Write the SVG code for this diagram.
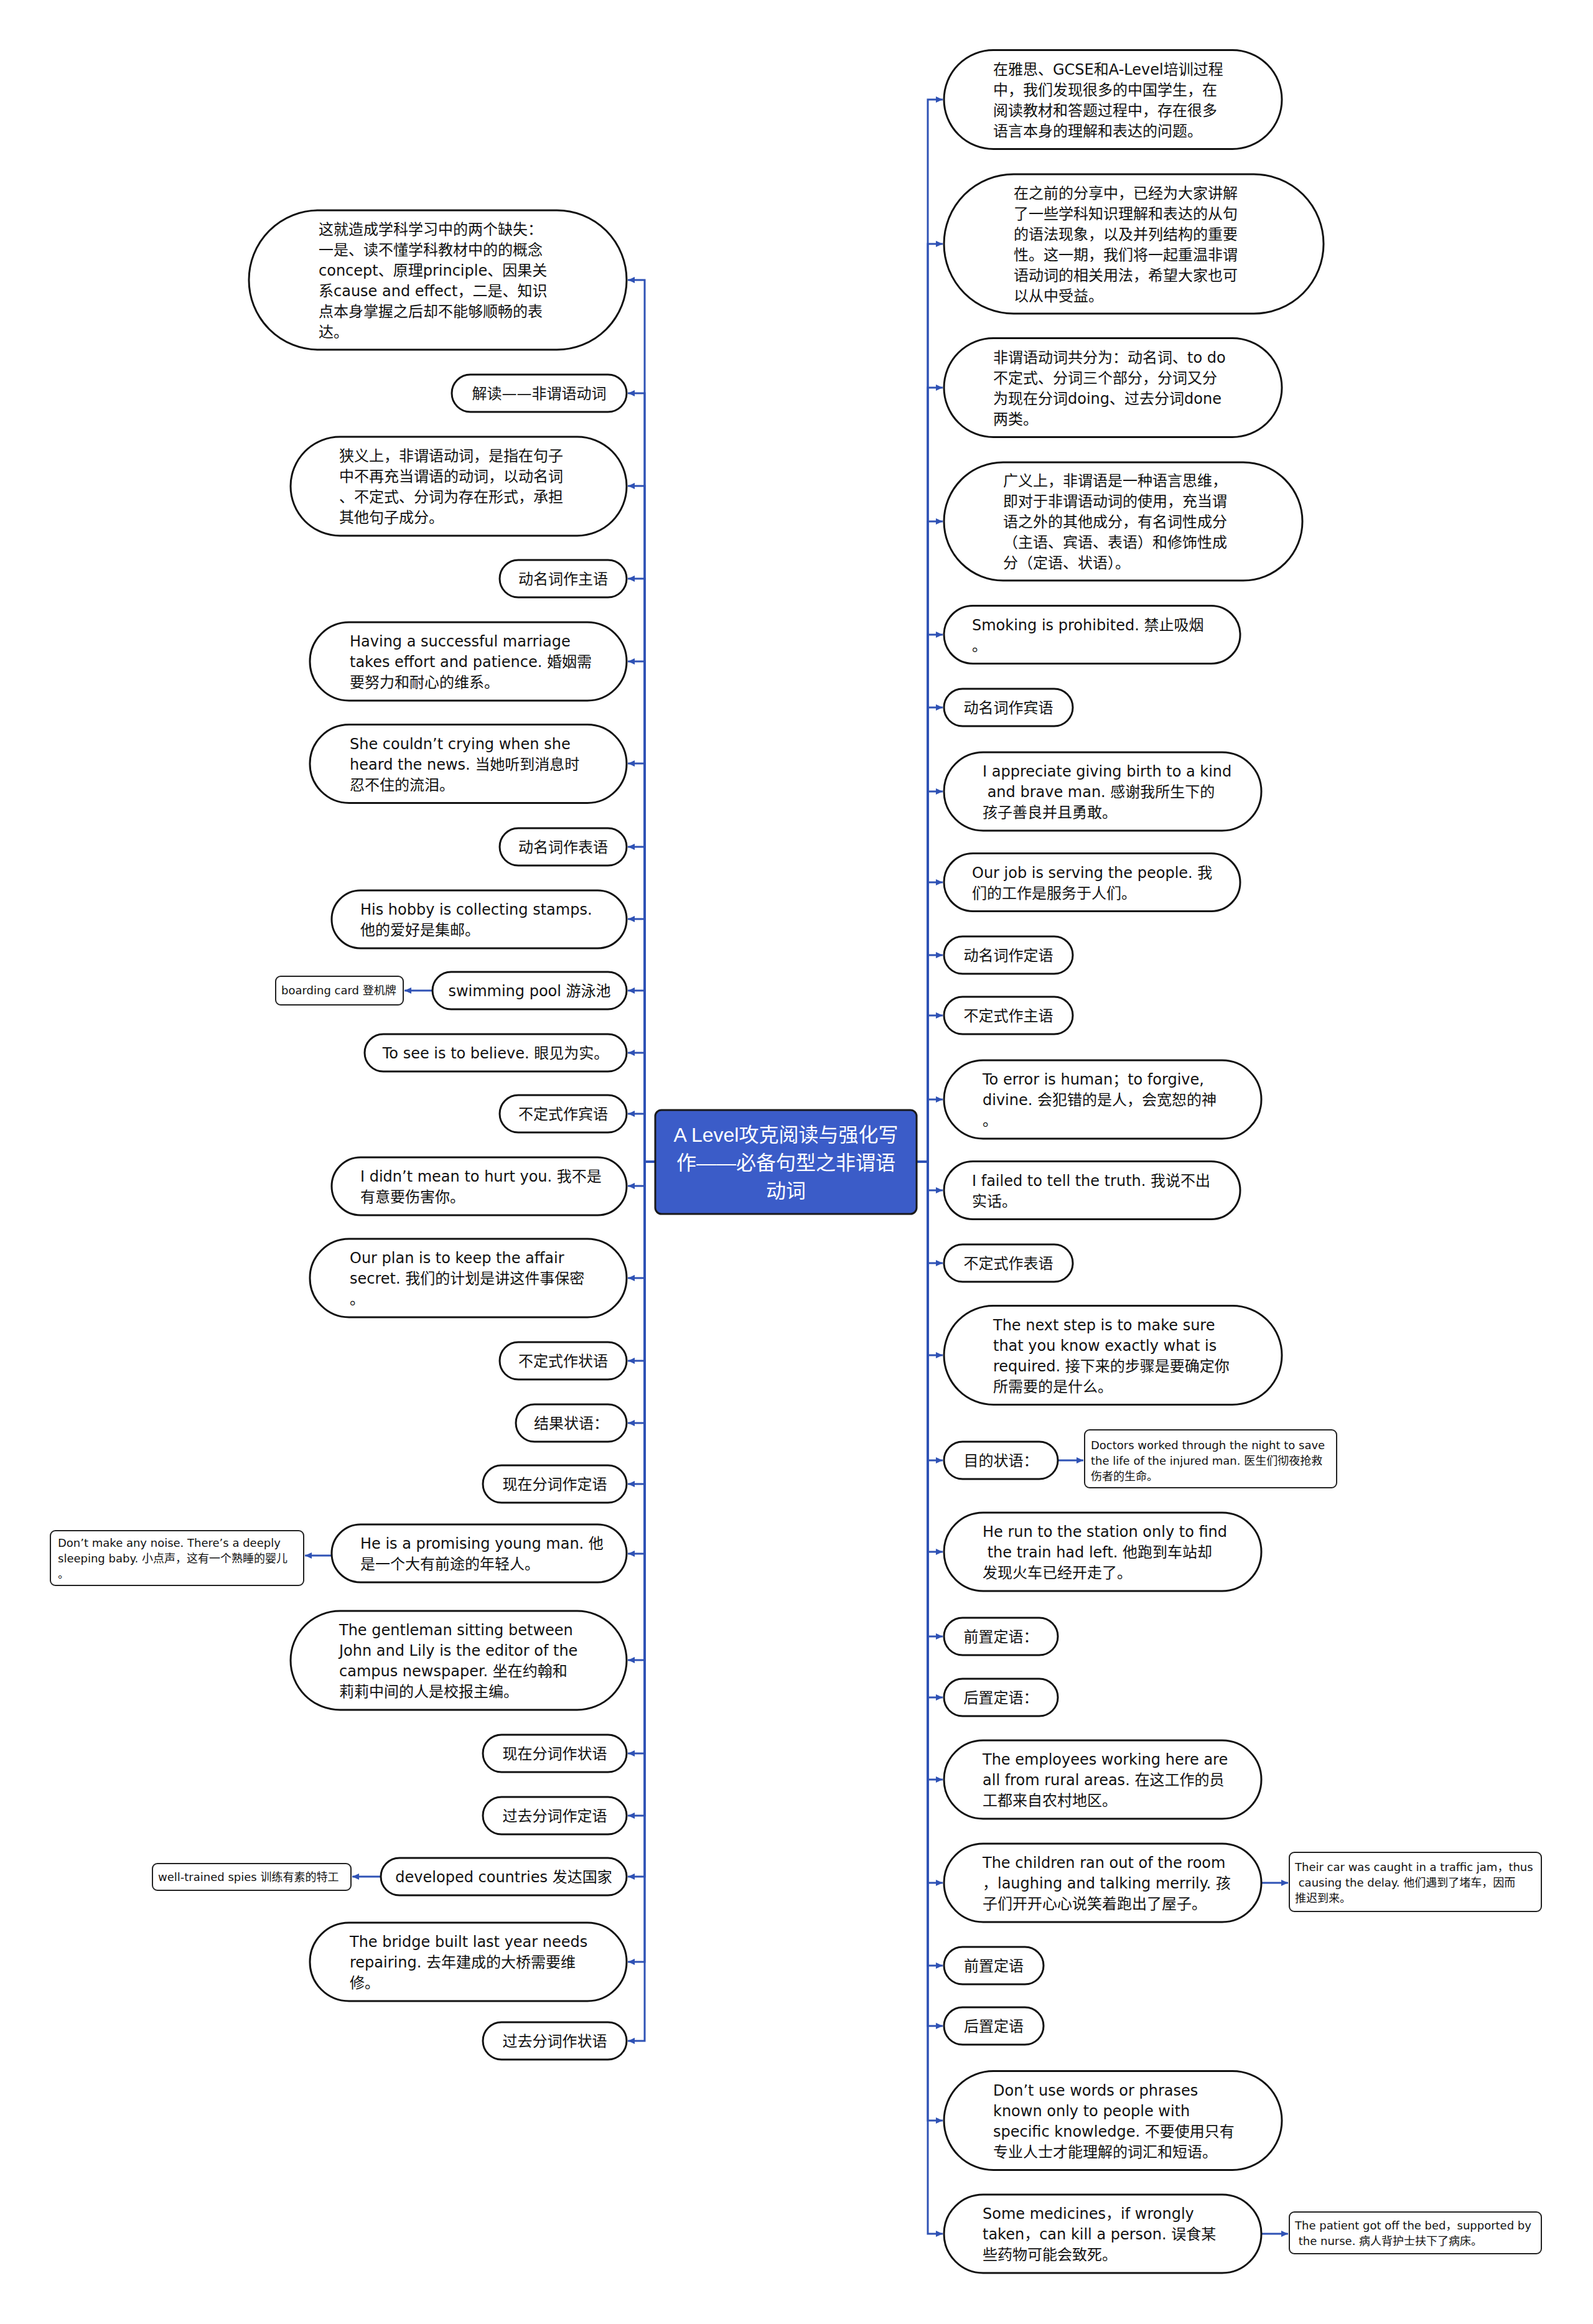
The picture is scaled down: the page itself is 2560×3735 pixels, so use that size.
<svg xmlns="http://www.w3.org/2000/svg" width="2560" height="3735" viewBox="0 0 2560 3735">
<defs>
<marker id="arr" markerUnits="userSpaceOnUse" markerWidth="12" markerHeight="12" refX="11" refY="6" orient="auto"><path d="M0,1 L11,6 L0,11 z" fill="#2f52b5"/></marker>
</defs>
<style>
.p{fill:#fff;stroke:#111;stroke-width:3}
.c{fill:#fff;stroke:#222;stroke-width:2}
.t{font-family:"DejaVu Sans","Noto Sans CJK SC",sans-serif;font-size:24px;fill:#111}
.s{font-family:"DejaVu Sans","Noto Sans CJK SC",sans-serif;font-size:18px;fill:#111}
.m{text-anchor:middle}
.e{fill:none;stroke:#2f52b5;stroke-width:3;marker-end:url(#arr)}
</style>
<rect width="2560" height="3735" fill="#fff"/>
<g id="connectors">
<path class="e" d="M1053 1867H1036V450H1009"/>
<path class="e" d="M1053 1867H1036V632H1009"/>
<path class="e" d="M1053 1867H1036V781H1009"/>
<path class="e" d="M1053 1867H1036V930H1009"/>
<path class="e" d="M1053 1867H1036V1063H1009"/>
<path class="e" d="M1053 1867H1036V1227H1009"/>
<path class="e" d="M1053 1867H1036V1361H1009"/>
<path class="e" d="M1053 1867H1036V1477H1009"/>
<path class="e" d="M1053 1867H1036V1592H1009"/>
<path class="e" d="M1053 1867H1036V1692H1009"/>
<path class="e" d="M1053 1867H1036V1790H1009"/>
<path class="e" d="M1053 1867H1036V1906H1009"/>
<path class="e" d="M1053 1867H1036V2054H1009"/>
<path class="e" d="M1053 1867H1036V2187H1009"/>
<path class="e" d="M1053 1867H1036V2287H1009"/>
<path class="e" d="M1053 1867H1036V2385H1009"/>
<path class="e" d="M1053 1867H1036V2497H1009"/>
<path class="e" d="M1053 1867H1036V2668H1009"/>
<path class="e" d="M1053 1867H1036V2818H1009"/>
<path class="e" d="M1053 1867H1036V2918H1009"/>
<path class="e" d="M1053 1867H1036V3016H1009"/>
<path class="e" d="M1053 1867H1036V3153H1009"/>
<path class="e" d="M1053 1867H1036V3280H1009"/>
<path class="e" d="M695 1592H650"/>
<path class="e" d="M533 2500H490"/>
<path class="e" d="M612 3016H566"/>
<path class="e" d="M1473 1867H1491V160H1515"/>
<path class="e" d="M1473 1867H1491V392H1515"/>
<path class="e" d="M1473 1867H1491V623H1515"/>
<path class="e" d="M1473 1867H1491V838H1515"/>
<path class="e" d="M1473 1867H1491V1020H1515"/>
<path class="e" d="M1473 1867H1491V1137H1515"/>
<path class="e" d="M1473 1867H1491V1272H1515"/>
<path class="e" d="M1473 1867H1491V1418H1515"/>
<path class="e" d="M1473 1867H1491V1535H1515"/>
<path class="e" d="M1473 1867H1491V1632H1515"/>
<path class="e" d="M1473 1867H1491V1767H1515"/>
<path class="e" d="M1473 1867H1491V1913H1515"/>
<path class="e" d="M1473 1867H1491V2030H1515"/>
<path class="e" d="M1473 1867H1491V2178H1515"/>
<path class="e" d="M1473 1867H1491V2347H1515"/>
<path class="e" d="M1473 1867H1491V2494H1515"/>
<path class="e" d="M1473 1867H1491V2630H1515"/>
<path class="e" d="M1473 1867H1491V2728H1515"/>
<path class="e" d="M1473 1867H1491V2860H1515"/>
<path class="e" d="M1473 1867H1491V3026H1515"/>
<path class="e" d="M1473 1867H1491V3159H1515"/>
<path class="e" d="M1473 1867H1491V3256H1515"/>
<path class="e" d="M1473 1867H1491V3408H1515"/>
<path class="e" d="M1473 1867H1491V3590H1515"/>
<path class="e" d="M1700 2347H1741"/>
<path class="e" d="M2027 3026H2070"/>
<path class="e" d="M2027 3590H2070"/>
</g>
<g id="center">
<rect x="1053" y="1784" width="420" height="167" rx="10" fill="#3b5cc8" stroke="#1a1a1a" stroke-width="3"/>
<text class="m" x="1263" y="1835" style="font-family:'Liberation Sans','Noto Sans CJK SC',sans-serif;font-size:32px;fill:#fff"><tspan x="1263">A Level攻克阅读与强化写</tspan><tspan x="1263" dy="45">作——必备句型之非谓语</tspan><tspan x="1263" dy="45">动词</tspan></text>
</g>
<g id="L1"><rect class="p" x="400" y="338" width="607" height="224" rx="112"/>
<text class="t" x="512" y="376.5"><tspan x="512">这就造成学科学习中的两个缺失：</tspan><tspan x="512" dy="33">一是、读不懂学科教材中的的概念</tspan><tspan x="512" dy="33">concept、原理principle、因果关</tspan><tspan x="512" dy="33">系cause and effect，二是、知识</tspan><tspan x="512" dy="33">点本身掌握之后却不能够顺畅的表</tspan><tspan x="512" dy="33">达。</tspan></text></g>
<g id="L2"><rect class="p" x="726" y="602" width="281" height="60" rx="30"/><text class="t m" x="866.5" y="641">解读——非谓语动词</text></g>
<g id="L3"><rect class="p" x="467" y="702" width="540" height="159" rx="79.5"/>
<text class="t" x="545" y="741"><tspan x="545">狭义上，非谓语动词，是指在句子</tspan><tspan x="545" dy="33">中不再充当谓语的动词，以动名词</tspan><tspan x="545" dy="33">、不定式、分词为存在形式，承担</tspan><tspan x="545" dy="33">其他句子成分。</tspan></text></g>
<g id="L4"><rect class="p" x="803" y="900" width="204" height="60" rx="30"/><text class="t m" x="905" y="939">动名词作主语</text></g>
<g id="L5"><rect class="p" x="498" y="1000" width="509" height="126" rx="63"/>
<text class="t" x="562" y="1039"><tspan x="562">Having a successful marriage</tspan><tspan x="562" dy="33">takes effort and patience. 婚姻需</tspan><tspan x="562" dy="33">要努力和耐心的维系。</tspan></text></g>
<g id="L6"><rect class="p" x="498" y="1164.5" width="509" height="126" rx="63"/>
<text class="t" x="562" y="1203.5"><tspan x="562">She couldn’t crying when she</tspan><tspan x="562" dy="33">heard the news. 当她听到消息时</tspan><tspan x="562" dy="33">忍不住的流泪。</tspan></text></g>
<g id="L7"><rect class="p" x="803" y="1331" width="204" height="60" rx="30"/><text class="t m" x="905" y="1370">动名词作表语</text></g>
<g id="L8"><rect class="p" x="533" y="1431" width="474" height="93" rx="46.5"/>
<text class="t" x="579" y="1470"><tspan x="579">His hobby is collecting stamps.</tspan><tspan x="579" dy="33">他的爱好是集邮。</tspan></text></g>
<g id="L9"><rect class="p" x="695" y="1562" width="312" height="60" rx="30"/><text class="t m" x="851" y="1601">swimming pool 游泳池</text></g>
<g id="L9a"><rect class="c" x="443" y="1569" width="205" height="46" rx="8"/><text class="s" x="452" y="1598">boarding card 登机牌</text></g>
<g id="L10"><rect class="p" x="586" y="1662" width="421" height="60" rx="30"/><text class="t m" x="796.5" y="1701">To see is to believe. 眼见为实。</text></g>
<g id="L11"><rect class="p" x="803" y="1760" width="204" height="60" rx="30"/><text class="t m" x="905" y="1799">不定式作宾语</text></g>
<g id="L12"><rect class="p" x="533" y="1860" width="474" height="93" rx="46.5"/>
<text class="t" x="579" y="1899"><tspan x="579">I didn’t mean to hurt you. 我不是</tspan><tspan x="579" dy="33">有意要伤害你。</tspan></text></g>
<g id="L13"><rect class="p" x="498" y="1991" width="509" height="126" rx="63"/>
<text class="t" x="562" y="2030"><tspan x="562">Our plan is to keep the affair</tspan><tspan x="562" dy="33">secret. 我们的计划是讲这件事保密</tspan><tspan x="562" dy="33">。</tspan></text></g>
<g id="L14"><rect class="p" x="803" y="2157" width="204" height="60" rx="30"/><text class="t m" x="905" y="2196">不定式作状语</text></g>
<g id="L15"><rect class="p" x="829" y="2257" width="178" height="60" rx="30"/><text class="t m" x="918" y="2296">结果状语：</text></g>
<g id="L16"><rect class="p" x="776" y="2355" width="231" height="60" rx="30"/><text class="t m" x="891.5" y="2394">现在分词作定语</text></g>
<g id="L17"><rect class="p" x="533" y="2450" width="474" height="93" rx="46.5"/>
<text class="t" x="579" y="2489"><tspan x="579">He is a promising young man. 他</tspan><tspan x="579" dy="33">是一个大有前途的年轻人。</tspan></text></g>
<g id="L17a"><rect class="c" x="81" y="2460" width="407" height="88" rx="8"/>
<text class="s" x="93" y="2486"><tspan x="93">Don’t make any noise. There’s a deeply</tspan><tspan x="93" dy="25">sleeping baby. 小点声，这有一个熟睡的婴儿</tspan><tspan x="93" dy="25">。</tspan></text></g>
<g id="L18"><rect class="p" x="467" y="2589" width="540" height="159" rx="79.5"/>
<text class="t" x="545" y="2628"><tspan x="545">The gentleman sitting between</tspan><tspan x="545" dy="33">John and Lily is the editor of the</tspan><tspan x="545" dy="33">campus newspaper. 坐在约翰和</tspan><tspan x="545" dy="33">莉莉中间的人是校报主编。</tspan></text></g>
<g id="L19"><rect class="p" x="776" y="2788" width="231" height="60" rx="30"/><text class="t m" x="891.5" y="2827">现在分词作状语</text></g>
<g id="L20"><rect class="p" x="776" y="2888" width="231" height="60" rx="30"/><text class="t m" x="891.5" y="2927">过去分词作定语</text></g>
<g id="L21"><rect class="p" x="612" y="2986" width="395" height="60" rx="30"/><text class="t m" x="809.5" y="3025">developed countries 发达国家</text></g>
<g id="L21a"><rect class="c" x="245" y="2995" width="319" height="43" rx="8"/><text class="s" x="254" y="3023">well-trained spies 训练有素的特工</text></g>
<g id="L22"><rect class="p" x="498" y="3090" width="509" height="126" rx="63"/>
<text class="t" x="562" y="3129"><tspan x="562">The bridge built last year needs</tspan><tspan x="562" dy="33">repairing. 去年建成的大桥需要维</tspan><tspan x="562" dy="33">修。</tspan></text></g>
<g id="L23"><rect class="p" x="776" y="3250" width="231" height="60" rx="30"/><text class="t m" x="891.5" y="3289">过去分词作状语</text></g>
<g id="R1"><rect class="p" x="1517" y="80.5" width="543" height="159" rx="79.5"/>
<text class="t" x="1596" y="119.5"><tspan x="1596">在雅思、GCSE和A-Level培训过程</tspan><tspan x="1596" dy="33">中，我们发现很多的中国学生，在</tspan><tspan x="1596" dy="33">阅读教材和答题过程中，存在很多</tspan><tspan x="1596" dy="33">语言本身的理解和表达的问题。</tspan></text></g>
<g id="R2"><rect class="p" x="1517" y="280" width="610" height="224" rx="112"/>
<text class="t" x="1629" y="318.5"><tspan x="1629">在之前的分享中，已经为大家讲解</tspan><tspan x="1629" dy="33">了一些学科知识理解和表达的从句</tspan><tspan x="1629" dy="33">的语法现象，以及并列结构的重要</tspan><tspan x="1629" dy="33">性。这一期，我们将一起重温非谓</tspan><tspan x="1629" dy="33">语动词的相关用法，希望大家也可</tspan><tspan x="1629" dy="33">以从中受益。</tspan></text></g>
<g id="R3"><rect class="p" x="1517" y="543.5" width="543" height="159" rx="79.5"/>
<text class="t" x="1596" y="582.5"><tspan x="1596">非谓语动词共分为：动名词、to do</tspan><tspan x="1596" dy="33">不定式、分词三个部分，分词又分</tspan><tspan x="1596" dy="33">为现在分词doing、过去分词done</tspan><tspan x="1596" dy="33">两类。</tspan></text></g>
<g id="R4"><rect class="p" x="1517" y="743" width="576" height="190" rx="95"/>
<text class="t" x="1612" y="781"><tspan x="1612">广义上，非谓语是一种语言思维，</tspan><tspan x="1612" dy="33">即对于非谓语动词的使用，充当谓</tspan><tspan x="1612" dy="33">语之外的其他成分，有名词性成分</tspan><tspan x="1612" dy="33">（主语、宾语、表语）和修饰性成</tspan><tspan x="1612" dy="33">分（定语、状语）。</tspan></text></g>
<g id="R5"><rect class="p" x="1517" y="973.5" width="476" height="93" rx="46.5"/>
<text class="t" x="1562" y="1012.5"><tspan x="1562">Smoking is prohibited. 禁止吸烟</tspan><tspan x="1562" dy="33">。</tspan></text></g>
<g id="R6"><rect class="p" x="1517" y="1107" width="207" height="60" rx="30"/><text class="t m" x="1620.5" y="1146">动名词作宾语</text></g>
<g id="R7"><rect class="p" x="1517" y="1209" width="510" height="126" rx="63"/>
<text class="t" x="1579" y="1248"><tspan x="1579">I appreciate giving birth to a kind</tspan><tspan x="1579" dy="33"> and brave man. 感谢我所生下的</tspan><tspan x="1579" dy="33">孩子善良并且勇敢。</tspan></text></g>
<g id="R8"><rect class="p" x="1517" y="1371.5" width="476" height="93" rx="46.5"/>
<text class="t" x="1562" y="1410.5"><tspan x="1562">Our job is serving the people. 我</tspan><tspan x="1562" dy="33">们的工作是服务于人们。</tspan></text></g>
<g id="R9"><rect class="p" x="1517" y="1505" width="207" height="60" rx="30"/><text class="t m" x="1620.5" y="1544">动名词作定语</text></g>
<g id="R10"><rect class="p" x="1517" y="1602" width="207" height="60" rx="30"/><text class="t m" x="1620.5" y="1641">不定式作主语</text></g>
<g id="R11"><rect class="p" x="1517" y="1704" width="510" height="126" rx="63"/>
<text class="t" x="1579" y="1743"><tspan x="1579">To error is human；to forgive,</tspan><tspan x="1579" dy="33">divine. 会犯错的是人，会宽恕的神</tspan><tspan x="1579" dy="33">。</tspan></text></g>
<g id="R12"><rect class="p" x="1517" y="1866.5" width="476" height="93" rx="46.5"/>
<text class="t" x="1562" y="1905.5"><tspan x="1562">I failed to tell the truth. 我说不出</tspan><tspan x="1562" dy="33">实话。</tspan></text></g>
<g id="R13"><rect class="p" x="1517" y="2000" width="207" height="60" rx="30"/><text class="t m" x="1620.5" y="2039">不定式作表语</text></g>
<g id="R14"><rect class="p" x="1517" y="2098.5" width="543" height="159" rx="79.5"/>
<text class="t" x="1596" y="2137.5"><tspan x="1596">The next step is to make sure</tspan><tspan x="1596" dy="33">that you know exactly what is</tspan><tspan x="1596" dy="33">required. 接下来的步骤是要确定你</tspan><tspan x="1596" dy="33">所需要的是什么。</tspan></text></g>
<g id="R15"><rect class="p" x="1517" y="2317" width="183" height="60" rx="30"/><text class="t m" x="1608.5" y="2356">目的状语：</text></g>
<g id="R15a"><rect class="c" x="1743" y="2298" width="405" height="93" rx="8"/>
<text class="s" x="1753" y="2329"><tspan x="1753">Doctors worked through the night to save</tspan><tspan x="1753" dy="25">the life of the injured man. 医生们彻夜抢救</tspan><tspan x="1753" dy="25">伤者的生命。</tspan></text></g>
<g id="R16"><rect class="p" x="1517" y="2431" width="510" height="126" rx="63"/>
<text class="t" x="1579" y="2470"><tspan x="1579">He run to the station only to find</tspan><tspan x="1579" dy="33"> the train had left. 他跑到车站却</tspan><tspan x="1579" dy="33">发现火车已经开走了。</tspan></text></g>
<g id="R17"><rect class="p" x="1517" y="2600" width="183" height="60" rx="30"/><text class="t m" x="1608.5" y="2639">前置定语：</text></g>
<g id="R18"><rect class="p" x="1517" y="2698" width="183" height="60" rx="30"/><text class="t m" x="1608.5" y="2737">后置定语：</text></g>
<g id="R19"><rect class="p" x="1517" y="2797" width="510" height="126" rx="63"/>
<text class="t" x="1579" y="2836"><tspan x="1579">The employees working here are</tspan><tspan x="1579" dy="33">all from rural areas. 在这工作的员</tspan><tspan x="1579" dy="33">工都来自农村地区。</tspan></text></g>
<g id="R20"><rect class="p" x="1517" y="2963" width="510" height="126" rx="63"/>
<text class="t" x="1579" y="3002"><tspan x="1579">The children ran out of the room</tspan><tspan x="1579" dy="33">，laughing and talking merrily. 孩</tspan><tspan x="1579" dy="33">子们开开心心说笑着跑出了屋子。</tspan></text></g>
<g id="R20a"><rect class="c" x="2072" y="2977" width="405" height="95" rx="8"/>
<text class="s" x="2081" y="3006.5"><tspan x="2081">Their car was caught in a traffic jam，thus</tspan><tspan x="2081" dy="25"> causing the delay. 他们遇到了堵车，因而</tspan><tspan x="2081" dy="25">推迟到来。</tspan></text></g>
<g id="R21"><rect class="p" x="1517" y="3129" width="160" height="60" rx="30"/><text class="t m" x="1597" y="3168">前置定语</text></g>
<g id="R22"><rect class="p" x="1517" y="3226" width="160" height="60" rx="30"/><text class="t m" x="1597" y="3265">后置定语</text></g>
<g id="R23"><rect class="p" x="1517" y="3328.5" width="543" height="159" rx="79.5"/>
<text class="t" x="1596" y="3367.5"><tspan x="1596">Don’t use words or phrases</tspan><tspan x="1596" dy="33">known only to people with</tspan><tspan x="1596" dy="33">specific knowledge. 不要使用只有</tspan><tspan x="1596" dy="33">专业人士才能理解的词汇和短语。</tspan></text></g>
<g id="R24"><rect class="p" x="1517" y="3527" width="510" height="126" rx="63"/>
<text class="t" x="1579" y="3566"><tspan x="1579">Some medicines，if wrongly</tspan><tspan x="1579" dy="33">taken，can kill a person. 误食某</tspan><tspan x="1579" dy="33">些药物可能会致死。</tspan></text></g>
<g id="R24a"><rect class="c" x="2072" y="3555" width="405" height="67" rx="8"/>
<text class="s" x="2081" y="3583"><tspan x="2081">The patient got off the bed，supported by</tspan><tspan x="2081" dy="25"> the nurse. 病人背护士扶下了病床。</tspan></text></g>
</svg>
